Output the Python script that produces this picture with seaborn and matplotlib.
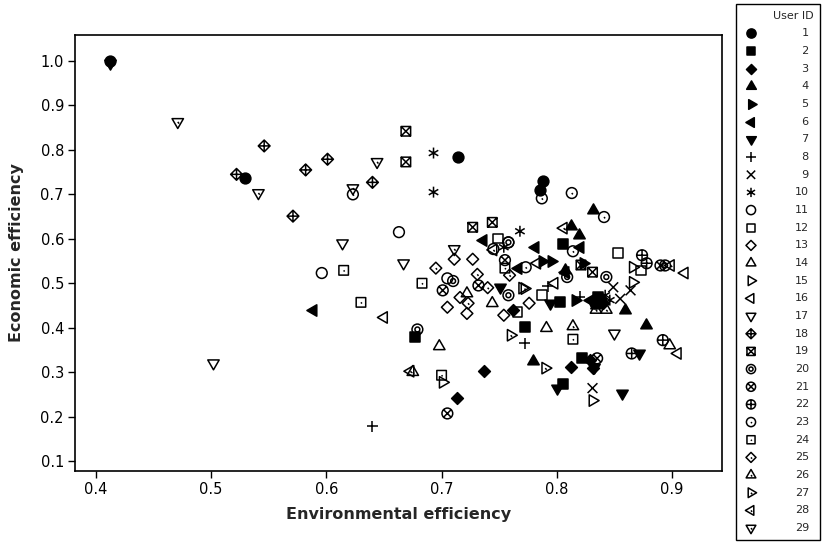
import numpy as np
import pandas as pd
import matplotlib
matplotlib.use('Agg')
import matplotlib.pyplot as plt
import seaborn as sns
from matplotlib.path import Path
from matplotlib.transforms import Affine2D

# Environmental (x) and economic (y) efficiency per user
env_u1 = [0.412, 0.529, 0.714, 0.788, 0.785, 0.838, 0.833]
eco_u1 = [1.000, 0.736, 0.784, 0.730, 0.709, 0.462, 0.455]
env_u2 = [0.805, 0.803, 0.772, 0.677, 0.822, 0.805, 0.836]
eco_u2 = [0.588, 0.457, 0.401, 0.378, 0.331, 0.273, 0.470]
env_u3 = [0.737, 0.713, 0.812, 0.829, 0.762, 0.831, 0.840]
eco_u3 = [0.302, 0.241, 0.311, 0.327, 0.439, 0.309, 0.455]
env_u4 = [0.831, 0.812, 0.819, 0.807, 0.779, 0.859, 0.877, 0.834]
eco_u4 = [0.664, 0.628, 0.608, 0.529, 0.324, 0.439, 0.405, 0.450]
env_u5 = [0.787, 0.795, 0.816, 0.823]
eco_u5 = [0.550, 0.550, 0.462, 0.545]
env_u6 = [0.736, 0.781, 0.766, 0.588, 0.807, 0.820, 0.829]
eco_u6 = [0.597, 0.581, 0.534, 0.439, 0.525, 0.581, 0.462]
env_u7 = [0.412, 0.751, 0.800, 0.832, 0.871, 0.857, 0.794]
eco_u7 = [0.995, 0.491, 0.264, 0.311, 0.342, 0.252, 0.455]
env_u8 = [0.772, 0.792, 0.640, 0.820]
eco_u8 = [0.365, 0.493, 0.178, 0.470]
env_u9 = [0.849, 0.864, 0.831, 0.855]
eco_u9 = [0.491, 0.484, 0.264, 0.465]
env_u10 = [0.693, 0.693, 0.768, 0.754, 0.842, 0.846]
eco_u10 = [0.793, 0.705, 0.617, 0.581, 0.473, 0.462]
env_u11 = [0.663, 0.745, 0.705, 0.596, 0.758]
eco_u11 = [0.615, 0.577, 0.511, 0.523, 0.592]
env_u12 = [0.749, 0.853, 0.873, 0.787, 0.766]
eco_u12 = [0.601, 0.568, 0.529, 0.473, 0.435]
env_u13 = [0.711, 0.727, 0.705, 0.722, 0.716, 0.754, 0.776]
eco_u13 = [0.554, 0.554, 0.446, 0.432, 0.468, 0.428, 0.455]
env_u14 = [0.698, 0.791, 0.744, 0.722, 0.898]
eco_u14 = [0.358, 0.399, 0.455, 0.477, 0.360]
env_u15 = [0.866, 0.866, 0.770, 0.831, 0.701]
eco_u15 = [0.536, 0.502, 0.489, 0.236, 0.277]
env_u16 = [0.650, 0.911, 0.905, 0.783, 0.798]
eco_u16 = [0.423, 0.523, 0.342, 0.545, 0.500]
env_u17 = [0.667, 0.850, 0.502, 0.614]
eco_u17 = [0.545, 0.387, 0.320, 0.590]
env_u18 = [0.546, 0.522, 0.582, 0.601, 0.571, 0.640]
eco_u18 = [0.809, 0.745, 0.755, 0.779, 0.651, 0.727]
env_u19 = [0.669, 0.669, 0.727, 0.744, 0.821, 0.831]
eco_u19 = [0.842, 0.773, 0.626, 0.637, 0.541, 0.525]
env_u20 = [0.710, 0.679, 0.843, 0.809, 0.758, 0.894, 0.758]
eco_u20 = [0.505, 0.396, 0.514, 0.514, 0.473, 0.540, 0.592]
env_u21 = [0.701, 0.705, 0.755, 0.835, 0.732, 0.890]
eco_u21 = [0.484, 0.207, 0.552, 0.331, 0.495, 0.540]
env_u22 = [0.874, 0.878, 0.892, 0.865]
eco_u22 = [0.563, 0.545, 0.372, 0.342]
env_u23 = [0.623, 0.813, 0.841, 0.787, 0.773, 0.814]
eco_u23 = [0.700, 0.703, 0.649, 0.691, 0.536, 0.572]
env_u24 = [0.683, 0.615, 0.630, 0.700, 0.814, 0.755]
eco_u24 = [0.500, 0.529, 0.457, 0.293, 0.374, 0.534]
env_u25 = [0.695, 0.731, 0.759, 0.723, 0.740]
eco_u25 = [0.534, 0.520, 0.518, 0.455, 0.490]
env_u26 = [0.675, 0.814, 0.834, 0.843]
eco_u26 = [0.300, 0.403, 0.440, 0.440]
env_u27 = [0.760, 0.790, 0.772]
eco_u27 = [0.383, 0.309, 0.488]
env_u28 = [0.806, 0.673, 0.899, 0.745]
eco_u28 = [0.624, 0.302, 0.540, 0.575]
env_u29 = [0.471, 0.541, 0.644, 0.623, 0.711]
eco_u29 = [0.863, 0.703, 0.773, 0.714, 0.577]

env_all = [env_u1, env_u2, env_u3, env_u4, env_u5, env_u6, env_u7, env_u8, env_u9, env_u10,
           env_u11, env_u12, env_u13, env_u14, env_u15, env_u16, env_u17, env_u18, env_u19, env_u20,
           env_u21, env_u22, env_u23, env_u24, env_u25, env_u26, env_u27, env_u28, env_u29]
eco_all = [eco_u1, eco_u2, eco_u3, eco_u4, eco_u5, eco_u6, eco_u7, eco_u8, eco_u9, eco_u10,
           eco_u11, eco_u12, eco_u13, eco_u14, eco_u15, eco_u16, eco_u17, eco_u18, eco_u19, eco_u20,
           eco_u21, eco_u22, eco_u23, eco_u24, eco_u25, eco_u26, eco_u27, eco_u28, eco_u29]

rows = []
for uid, (xs, ys) in enumerate(zip(env_all, eco_all), start=1):
    for x, y in zip(xs, ys):
        rows.append({'user': uid, 'env': x, 'eco': y})
df = pd.DataFrame(rows)

# Minitab style symbols built from paths
M, L = Path.MOVETO, Path.LINETO
circle = Path.unit_circle()
square = Path([(-1, -1), (1, -1), (1, 1), (-1, 1), (-1, -1)], [M, L, L, L, Path.CLOSEPOLY])
diamond = Path.unit_regular_polygon(4)
tri_up = Path.unit_regular_polygon(3)
tri_down = tri_up.transformed(Affine2D().rotate_deg(180))
tri_left = tri_up.transformed(Affine2D().rotate_deg(90))
tri_right = tri_up.transformed(Affine2D().rotate_deg(-90))
plus = Path([(-1, 0), (1, 0), (0, -1), (0, 1)], [M, L, M, L])
cross = Path([(-1, -1), (1, 1), (-1, 1), (1, -1)], [M, L, M, L])
in_plus = Path([(-0.9, 0), (0.9, 0), (0, -0.9), (0, 0.9)], [M, L, M, L])
in_cross = Path([(-0.68, -0.68), (0.68, 0.68), (-0.68, 0.68), (0.68, -0.68)], [M, L, M, L])
sq_cross = Path([(-1, -1), (1, 1), (-1, 1), (1, -1)], [M, L, M, L])
aster = Path([(0, -1), (0, 1), (-0.87, -0.5), (0.87, 0.5), (-0.87, 0.5), (0.87, -0.5)],
             [M, L, M, L, M, L])
tick = Path([(0, 0), (0.2, -0.25)], [M, L])
inner = Path.unit_circle().transformed(Affine2D().scale(0.45))


def combo(*paths):
    return Path.make_compound_path(*paths)


# (path, filled, size)
S_CIRC, S_SQ, S_DIA, S_TRI = 60, 47, 72, 90
markers = {
    1: (circle, True, S_CIRC), 2: (square, True, S_SQ), 3: (diamond, True, S_DIA), 4: (tri_up, True, S_TRI),
    5: (tri_right, True, S_TRI), 6: (tri_left, True, S_TRI), 7: (tri_down, True, S_TRI),
    8: (plus, False, 62), 9: (cross, False, 50), 10: (aster, False, 62),
    11: (circle, False, S_CIRC), 12: (square, False, S_SQ), 13: (diamond, False, S_DIA), 14: (tri_up, False, S_TRI),
    15: (tri_right, False, S_TRI), 16: (tri_left, False, S_TRI), 17: (tri_down, False, S_TRI),
    18: (combo(diamond, in_plus), False, S_DIA), 19: (combo(square, sq_cross), False, S_SQ),
    20: (combo(circle, inner), False, S_CIRC), 21: (combo(circle, in_cross), False, S_CIRC),
    22: (combo(circle, in_plus), False, S_CIRC), 23: (combo(circle, tick), False, S_CIRC),
    24: (combo(square, tick), False, S_SQ), 25: (combo(diamond, tick), False, S_DIA),
    26: (combo(tri_up, tick), False, S_TRI), 27: (combo(tri_right, tick), False, S_TRI),
    28: (combo(tri_left, tick), False, S_TRI), 29: (combo(tri_down, tick), False, S_TRI),
}

sns.set_style('ticks')
plt.rcParams['font.family'] = ['DejaVu Sans']

fig = plt.figure(figsize=(8.23, 5.42), dpi=100)
ax = fig.add_axes([75 / 823, 1 - 471 / 542, 647 / 823, 436 / 542])

for uid in range(1, 30):
    path, filled, size = markers[uid]
    sub = df[df['user'] == uid]
    sns.scatterplot(data=sub, x='env', y='eco', ax=ax, marker=path, s=size,
                    facecolor='black' if filled else 'none', edgecolor='black',
                    linewidth=1.1, label=str(uid).rjust(2, '\u2007'), legend=False, zorder=3)

ax.set_xlim(0.3818, 0.9434)
ax.set_ylim(0.0775, 1.0586)
ax.set_xticks([0.4, 0.5, 0.6, 0.7, 0.8, 0.9])
ax.set_yticks(np.round(np.arange(0.1, 1.01, 0.1), 1))
ax.set_xticklabels(['0.4', '0.5', '0.6', '0.7', '0.8', '0.9'])
ax.set_yticklabels([f'{v:.1f}' for v in np.arange(0.1, 1.01, 0.1)])
ax.tick_params(direction='out', length=5, width=1, labelsize=10.5, colors='black', pad=3)
for sp in ax.spines.values():
    sp.set_visible(True)
    sp.set_color('black')
    sp.set_linewidth(1.2)
ax.set_xlabel('Environmental efficiency', fontsize=11.5, fontweight='bold', labelpad=7)
ax.set_ylabel('Economic efficiency', fontsize=11.5, fontweight='bold', labelpad=12)

handles, labels = ax.get_legend_handles_labels()
leg = fig.legend(handles, labels, loc='upper left',
                 bbox_to_anchor=(736 / 823, 3 / 542, 84 / 823, 535 / 542), mode='expand',
                 title='User ID', alignment='right', fontsize=8, title_fontsize=8,
                 frameon=True, fancybox=False, edgecolor='black', framealpha=1,
                 labelspacing=0.69, handletextpad=3.2, borderaxespad=0, borderpad=0.6,
                 handlelength=1.5, scatterpoints=1, markerscale=0.85)
leg.get_frame().set_linewidth(1.0)

fig.savefig('out.png', dpi=100)
